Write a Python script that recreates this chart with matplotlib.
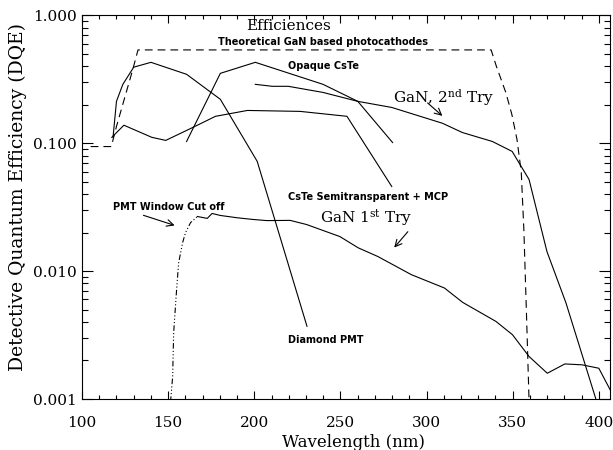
import numpy as np
import matplotlib
matplotlib.use("Agg")
from matplotlib import pyplot as plt
from matplotlib.ticker import FixedLocator, LogLocator, NullFormatter, FormatStrFormatter

plt.rcParams['mathtext.fontset'] = 'dejavuserif'

# curves (wavelength nm, DQE)
theory_wl = [105, 117, 120, 129.5, 132.5, 337.5, 340.5, 346, 349.5, 352.5, 355, 356.5, 358, 359.5]
theory_qe = [0.094, 0.094, 0.135, 0.378, 0.535, 0.535, 0.40, 0.249, 0.168, 0.107, 0.059, 0.021, 0.0047, 0.00098]

diamond_wl = [118, 120, 123.7, 130, 140, 160.7, 180.3, 201.7, 230.6]
diamond_qe = [0.111, 0.212, 0.288, 0.392, 0.428, 0.345, 0.220, 0.072, 0.0037]

semi_wl = [117.3, 124.3, 140.5, 148.6, 163, 177.5, 196, 226.6, 253.8, 279.8]
semi_qe = [0.111, 0.138, 0.111, 0.105, 0.130, 0.162, 0.180, 0.177, 0.162, 0.0458]

opaque_wl = [160.7, 180.3, 200.6, 239.9, 260.1, 280.3]
opaque_qe = [0.103, 0.351, 0.428, 0.288, 0.212, 0.101]

gan2_wl = [200.6, 210.4, 219.7, 239.9, 260.1, 279.8, 309.2, 320.8, 338.2, 349.7, 359.5, 369.9, 380.9, 398.5]
gan2_qe = [0.288, 0.278, 0.278, 0.249, 0.212, 0.190, 0.143, 0.121, 0.103, 0.0861, 0.052, 0.0142, 0.00566, 0.00098]

pmt_wl = [151.4, 152.6, 153.2, 154.9, 156.1, 158.4, 160.1, 163, 167]
pmt_qe = [0.00095, 0.00149, 0.0033, 0.00715, 0.0116, 0.0167, 0.0200, 0.0239, 0.0267]

gan1_wl = [167, 172.7, 175.5, 180.3, 190, 199.4, 207.3, 220.8, 230.4, 249.7, 260.3, 271.7,
           291.2, 310.4, 321, 340.3, 349.9, 359.5, 370.1, 380.3, 390.3, 400, 407.5]
gan1_qe = [0.0267, 0.0258, 0.0282, 0.0272, 0.0261, 0.0253, 0.0248, 0.0249, 0.0231, 0.0186, 0.0152, 0.0130,
           0.00937, 0.00737, 0.00569, 0.00404, 0.00318, 0.00215, 0.00159, 0.00188, 0.00185, 0.00174, 0.00112]

fig = plt.figure(figsize=(6.13, 4.5), dpi=100)
ax = fig.add_axes([0.1338, 0.1133, 0.8613, 0.853])

lw = 0.8
ax.plot(theory_wl, theory_qe, color='black', lw=lw, linestyle=(0, (7, 4.5)))
ax.plot(diamond_wl, diamond_qe, color='black', lw=lw)
ax.plot(semi_wl, semi_qe, color='black', lw=lw)
ax.plot(opaque_wl, opaque_qe, color='black', lw=lw)
ax.plot(gan2_wl, gan2_qe, color='black', lw=lw)
ax.plot(pmt_wl, pmt_qe, color='black', lw=lw, linestyle=(0, (5, 2, 1, 2, 1, 2, 1, 2)))
ax.plot(gan1_wl, gan1_qe, color='black', lw=lw)

ax.set_yscale('log')
ax.set_xlim(100, 406.5)
ax.set_ylim(0.001, 1.0)

ax.xaxis.set_major_locator(FixedLocator([100, 150, 200, 250, 300, 350, 400]))
ax.xaxis.set_minor_locator(FixedLocator(np.arange(110, 406, 10)))
ax.yaxis.set_major_locator(LogLocator(base=10))
ax.yaxis.set_minor_locator(LogLocator(base=10, subs=np.arange(2, 10)))
ax.yaxis.set_major_formatter(FormatStrFormatter('%.3f'))
ax.yaxis.set_minor_formatter(NullFormatter())

ax.tick_params(which='both', direction='in', top=True, right=True, width=0.8)
ax.tick_params(axis='x', which='major', length=6, pad=12)
ax.tick_params(axis='x', which='minor', length=3)
ax.tick_params(axis='y', which='major', length=8, pad=4)
ax.tick_params(axis='y', which='minor', length=4)
for lab in ax.get_xticklabels() + ax.get_yticklabels():
    lab.set_family('DejaVu Serif')
    lab.set_fontsize(11)
for sp in ax.spines.values():
    sp.set_linewidth(0.8)

ax.set_xlabel('Wavelength (nm)', family='DejaVu Serif', fontsize=12)
ax.set_ylabel('Detective Quantum Efficiency (DQE)', family='DejaVu Serif', fontsize=13.5)
ax.xaxis.set_label_coords(0.515, -0.09)
ax.yaxis.set_label_coords(-0.105, 0.525)

small = dict(family='DejaVu Sans', fontsize=7, fontweight='bold', ha='center', va='center')
big = dict(family='DejaVu Serif', fontsize=11, va='center')

ax.text(219.7, 0.824, 'Efficiences', ha='center', **big)
ax.text(239.9, 0.615, 'Theoretical GaN based photocathodes', **small)
ax.text(239.9, 0.399, 'Opaque CsTe', **small)
ax.text(280.3, 0.228, r'GaN, 2$^{\rm nd}$ Try', ha='left', **big)
ax.text(265.9, 0.0376, 'CsTe Semitransparent + MCP', **small)
ax.text(264.7, 0.0262, r'GaN 1$^{\rm st}$ Try', ha='center', **big)
ax.text(150.3, 0.0314, 'PMT Window Cut off', **small)
ax.text(241.6, 0.0029, 'Diamond PMT', **small)

arrow = dict(arrowstyle='->', lw=0.8, color='black', mutation_scale=12)
ax.annotate('', xy=(310.4, 0.158), xytext=(299.4, 0.213), arrowprops=arrow)
ax.annotate('', xy=(280.2, 0.0147), xytext=(290.2, 0.0211), arrowprops=arrow)
ax.annotate('', xy=(155.3, 0.0224), xytext=(134.1, 0.0277), arrowprops=arrow)

fig.savefig('out.png', dpi=100)
